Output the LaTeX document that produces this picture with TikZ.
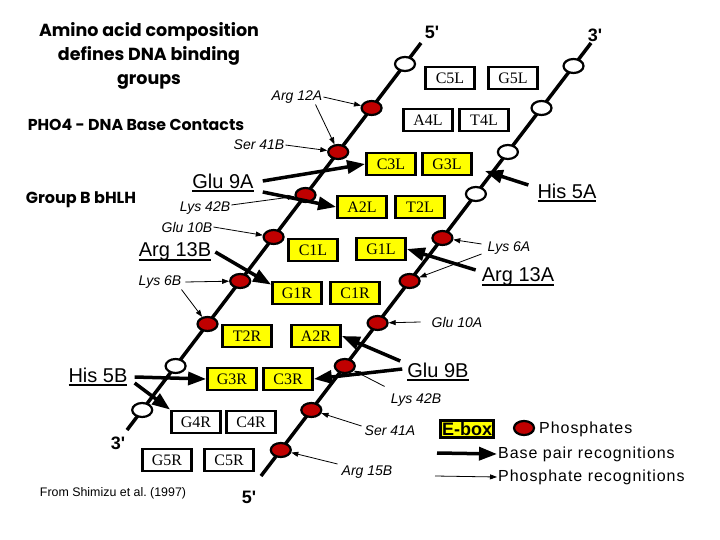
\documentclass[tikz,border=0pt]{standalone}
\usepackage{fontspec}
\setmainfont{Liberation Serif}
\setsansfont{Liberation Sans}
\newfontfamily\comicfont{Poppins}
\usetikzlibrary{arrows.meta,shapes.geometric}

\definecolor{phosred}{RGB}{192,0,0}
\definecolor{eboxyellow}{RGB}{255,255,0}

\newsavebox{\ulbox}
\newcommand{\resul}[1]{\sbox{\ulbox}{#1}\rlap{\usebox{\ulbox}}\rule[-3.6pt]{\wd\ulbox}{1.6pt}}

\tikzset{
  strand/.style={line width=3.5pt},
  phos/.style={ellipse,draw,line width=2.2pt,fill=phosred,inner sep=0pt,
    minimum width=20pt,minimum height=14pt},
  phosw/.style={phos,fill=white},
  base/.style={draw,line width=2.8pt,fill=white,minimum width=49pt,
    minimum height=22pt,inner sep=1pt,font=\fontsize{16}{18}\selectfont},
  ebase/.style={base,fill=eboxyellow},
  res/.style={inner sep=1pt,font=\sffamily\itshape\fontsize{14}{16}\selectfont},
  keyres/.style={inner sep=1pt,font=\sffamily\fontsize{20}{24}\selectfont},
  ends/.style={inner sep=1pt,font=\sffamily\bfseries\fontsize{18}{20}\selectfont},
  heading/.style={inner sep=1pt,align=center,font=\comicfont\bfseries},
  keytext/.style={inner sep=1pt,anchor=west,
    font=\sffamily\fontsize{16}{18}\selectfont\addfontfeature{LetterSpace=6}},
  bpr/.style={line width=3.5pt,-{Triangle[length=18pt,width=13pt]}},
  phr/.style={line width=0.8pt,-{Triangle[length=7pt,width=5pt]}},
}

\begin{document}
\begin{tikzpicture}[x=1pt,y=-1pt]
  \useasboundingbox (0,0) rectangle (720,540);

  % headings
  \node[heading,font=\comicfont\bfseries\fontsize{17.5}{24}\selectfont] (title) at (149,56)
    {Amino acid composition\\defines DNA binding\\groups};
  \node[heading,font=\comicfont\bfseries\fontsize{15.8}{18}\selectfont] (pho4) at (136,125)
    {PHO4 - DNA Base Contacts};
  \node[heading,font=\comicfont\bfseries\fontsize{16}{18}\selectfont] (group) at (81,200)
    {Group B bHLH};

  % backbones
  \coordinate (s1top) at (421,43);
  \coordinate (s1bot) at (127,430);
  \coordinate (s2top) at (591,43);
  \coordinate (s2bot) at (261,476);
  \draw[strand] (s1top) -- (s1bot);
  \draw[strand] (s2top) -- (s2bot);
  \node[ends] (end5top) at (432,32) {5\textquotesingle};
  \node[ends] (end3top) at (595,35) {3\textquotesingle};
  \node[ends] (end3bot) at (118,443) {3\textquotesingle};
  \node[ends] (end5bot) at (249,497) {5\textquotesingle};

  % phosphates
  \path
    (405.0,64) node[phosw] (p1){}
    (371.6,108) node[phos] (p2){}
    (338.2,152) node[phos] (p3){}
    (305.5,195) node[phos] (p4){}
    (273.6,237) node[phos] (p5){}
    (240.2,281) node[phos] (p6){}
    (207.5,324) node[phos] (p7){}
    (175.6,366) node[phosw] (p8){}
    (142.2,410) node[phosw] (p9){};
  \path
    (573.5,66) node[phosw] (q1){}
    (541.5,108) node[phosw] (q2){}
    (507.9,152) node[phosw] (q3){}
    (475.9,194) node[phosw] (q4){}
    (442.4,238) node[phos] (q5){}
    (409.6,281) node[phos] (q6){}
    (377.6,323) node[phos] (q7){}
    (344.8,366) node[phos] (q8){}
    (311.3,410) node[phos] (q9){}
    (280.8,450) node[phos] (q10){};

  % bases
  \node[base] (C5L) at (450,78) {C5L};
  \node[base] (G5L) at (513,78) {G5L};
  \node[base] (A4L) at (428,120) {A4L};
  \node[base] (T4L) at (484,120) {T4L};
  \node[ebase] (C3L) at (391,164) {C3L};
  \node[ebase] (G3L) at (447,164) {G3L};
  \node[ebase] (A2L) at (362,207) {A2L};
  \node[ebase] (T2L) at (420,207) {T2L};
  \node[ebase] (C1L) at (313,250) {C1L};
  \node[ebase] (G1L) at (381,249) {G1L};
  \node[ebase] (G1R) at (297,293) {G1R};
  \node[ebase] (C1R) at (355,293) {C1R};
  \node[ebase] (T2R) at (247,336) {T2R};
  \node[ebase] (A2R) at (316,336) {A2R};
  \node[ebase] (G3R) at (232,379) {G3R};
  \node[ebase] (C3R) at (288,379) {C3R};
  \node[base] (G4R) at (196,422) {G4R};
  \node[base] (C4R) at (251,422) {C4R};
  \node[base] (G5R) at (167,460) {G5R};
  \node[base] (C5R) at (229,460) {C5R};

  % residues
  \node[res] (arg12a) at (297,97) {Arg 12A};
  \node[res] (ser41b) at (259,145) {Ser 41B};
  \node[keyres] (glu9a) at (223,183) {\resul{Glu 9A}};
  \node[res] (lys42bl) at (205,208) {Lys 42B};
  \node[res] (glu10b) at (187,227) {Glu 10B};
  \node[keyres] (arg13b) at (175,252) {\resul{Arg 13B}};
  \node[res] (lys6b) at (160,282) {Lys 6B};
  \node[keyres] (his5a) at (567,193) {\resul{His 5A}};
  \node[res] (lys6a) at (509,248) {Lys 6A};
  \node[keyres] (arg13a) at (518,277) {\resul{Arg 13A}};
  \node[res] (glu10a) at (457,322) {Glu 10A};
  \node[keyres] (glu9b) at (438,372) {\resul{Glu 9B}};
  \node[res] (lys42br) at (416,400) {Lys 42B};
  \node[res] (ser41a) at (390,431) {Ser 41A};
  \node[res] (arg15b) at (367,472) {Arg 15B};
  \node[keyres] (his5b) at (98,377) {\resul{His 5B}};
  \node[inner sep=1pt,font=\sffamily\fontsize{12.4}{14}\selectfont] (source) at (113,493)
    {From Shimizu et al.\ (1997)};

  % phosphate recognitions
  \begin{scope}[phr]
    \draw (arg12a.east) to (p2);
    \draw ([xshift=-8pt]arg12a.south east) to (p3);
    \draw (ser41b.east) to (p3);
    \draw ([yshift=3pt]lys42bl.east) to (p4);
    \draw (glu10b.east) to (p5);
    \draw ([xshift=3pt]lys6b.east) to (p6);
    \draw ([xshift=-1pt]lys6b.south east) to (p7);
    \draw ([xshift=-5pt,yshift=4pt]lys6a.west) to (q5);
    \draw ([xshift=-5pt,yshift=-6pt]lys6a.west) to (q6);
    \draw ([xshift=-10pt]glu10a.west) to (q7);
    \draw ([xshift=-5pt,yshift=6pt]lys42br.north west) to (q8);
    \draw ([xshift=-2pt,yshift=5pt]ser41a.west) to (q9);
    \draw ([xshift=-3pt,yshift=8pt]arg15b.west) to (q10);
  \end{scope}

  % base pair recognitions
  \begin{scope}[bpr]
    \draw ([xshift=8pt,yshift=2pt]glu9a.east) to (C3L.west);
    \draw ([xshift=8pt,yshift=-9pt]glu9a.east) to (A2L.west);
    \draw ([xshift=3pt]arg13b.east) to ([yshift=-4pt]G1R.north west);
    \draw ([xshift=-8pt,yshift=8pt]his5a.west) to ([xshift=12pt,yshift=-7pt]G3L.east);
    \draw ([xshift=-5pt,yshift=7pt]arg13a.west) to (G1L.east);
    \draw ([xshift=-6pt,yshift=11pt]glu9b.west) to (A2R.east);
    \draw ([xshift=-4pt,yshift=3pt]glu9b.west) to (C3R.east);
    \draw ([xshift=6pt]his5b.east) to (G3R.west);
    \draw ([xshift=6pt,yshift=-6pt]his5b.east) to (G4R.north west);
  \end{scope}

  % legend
  \node[ebase,minimum width=0pt,minimum height=0pt,inner sep=1.5pt,
    font=\sffamily\bfseries\fontsize{18}{20}\selectfont] (eboxkey) at (467,429) {E-box};
  \node[phos] (phoskey) at (524,428) {};
  \node[keytext] (phostext) at (538,429) {Phosphates};
  \coordinate (bprstart) at (437,453);
  \node[keytext] (bprtext) at (497,454) {Base pair recognitions};
  \coordinate (phrstart) at (435,476);
  \node[keytext] (phrtext) at (497,477) {Phosphate recognitions};
  \draw[bpr] (bprstart) -- (bprtext.west);
  \draw[phr] (phrstart) -- (phrtext.west);
\end{tikzpicture}
\end{document}
